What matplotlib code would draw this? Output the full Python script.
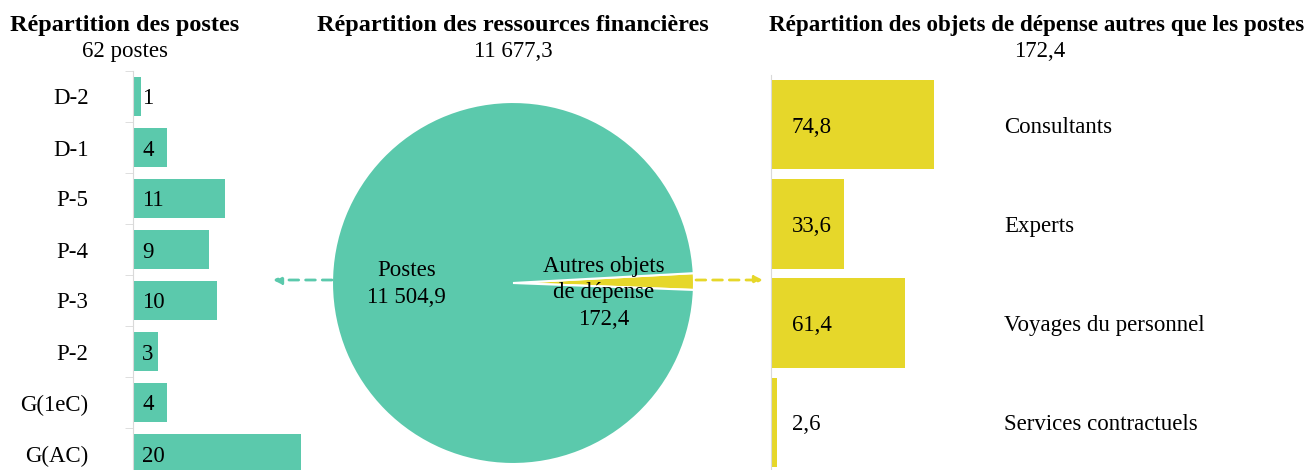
import matplotlib
matplotlib.use('Agg')
import matplotlib.pyplot as plt

plt.rcParams['font.family'] = ['Liberation Serif', 'DejaVu Serif']

# --- data ---
grades = ['D-2', 'D-1', 'P-5', 'P-4', 'P-3', 'P-2', 'G(1eC)', 'G(AC)']
postes = [1, 4, 11, 9, 10, 3, 4, 20]

pie_labels = ['Autres objets\nde dépense\n172,4', 'Postes\n11 504,9']
pie_values = [172.4, 11504.9]

objets = ['Consultants', 'Experts', 'Voyages du personnel', 'Services contractuels']
objets_val = [74.8, 33.6, 61.4, 2.6]
objets_txt = ['74,8', '33,6', '61,4', '2,6']

GREEN = '#5BC9AC'
YELLOW = '#E6D72A'
W, H = 1310, 470
FS = 16.5      # body text
FT = 17.5      # bold titles

fig = plt.figure(figsize=(W / 100, H / 100), dpi=100)


def px_axes(x0, y0, x1, y1):
    # pixel box (top-left origin) -> figure axes
    return fig.add_axes([x0 / W, (H - y1) / H, (x1 - x0) / W, (y1 - y0) / H])


# --- left: postes ---
ax1 = px_axes(133, 71, 301, 479)
ypos = list(range(len(grades)))
ax1.barh(ypos, postes, height=0.76, color=GREEN)
ax1.set_xlim(0, 20)
ax1.set_ylim(len(grades) - 0.5, -0.5)
ax1.set_yticks(ypos)
ax1.set_yticklabels(grades, fontsize=FS)
ax1.set_yticks([i - 0.5 for i in range(len(grades) + 1)], minor=True)
ax1.tick_params(axis='y', which='major', length=0, pad=32)
ax1.tick_params(axis='y', which='minor', length=6, color='#D9D9D9')
ax1.set_xticks([])
for s in ['top', 'right', 'bottom']:
    ax1.spines[s].set_visible(False)
ax1.spines['left'].set_color('#D9D9D9')
for y, v in zip(ypos, postes):
    ax1.annotate(str(v), xy=(0, y), xytext=(6.5, 0), textcoords='offset points',
                 ha='left', va='center_baseline', fontsize=FS)
fig.text(125 / W, 1 - 25 / H, 'Répartition des postes', ha='center', va='center',
         fontsize=FT, fontweight='bold')
fig.text(125 / W, 1 - 52 / H, '62 postes', ha='center', va='center', fontsize=FS)

# --- middle: pie ---
cx, cy, r = 513, 283, 181
ax2 = px_axes(cx - r, cy - r, cx + r, cy + r)
ax2.pie(pie_values, colors=[YELLOW, GREEN], startangle=-2.2, counterclock=True,
        wedgeprops=dict(edgecolor='white', linewidth=1.5))
ax2.set_xlim(-1, 1)
ax2.set_ylim(-1, 1)
ax2.text(-0.59, -0.005, pie_labels[1], ha='center', va='center', fontsize=FS,
         linespacing=1.37)
ax2.text(0.5, -0.055, pie_labels[0], ha='center', va='center', fontsize=FS,
         linespacing=1.34)
fig.text(cx / W, 1 - 25 / H, 'Répartition des ressources financières', ha='center',
         va='center', fontsize=FT, fontweight='bold')
fig.text(cx / W, 1 - 52 / H, '11 677,3', ha='center', va='center', fontsize=FS)

# arrows
arrow_kw = dict(arrowstyle='-|>', linestyle=(0, (3.5, 2.5)), lw=2,
                mutation_scale=12, shrinkA=0, shrinkB=0)
ax2.annotate('', xy=(273, H - 280), xycoords='figure pixels',
             xytext=(332, H - 280), textcoords='figure pixels',
             arrowprops=dict(color=GREEN, **arrow_kw), annotation_clip=False)
ax2.annotate('', xy=(763, H - 280), xycoords='figure pixels',
             xytext=(696, H - 280), textcoords='figure pixels',
             arrowprops=dict(color=YELLOW, **arrow_kw), annotation_clip=False)

# --- right: autres objets ---
ax3 = px_axes(771, 75, 1000, 472)
ypos3 = list(range(len(objets)))
ax3.barh(ypos3, objets_val, height=0.9, color=YELLOW)
ax3.set_xlim(0, 229 / 2.18)
ax3.set_ylim(len(objets) - 0.5, -0.5)
ax3.set_yticks(ypos3)
ax3.set_yticklabels(objets, fontsize=FS)
ax3.yaxis.tick_right()
ax3.tick_params(axis='y', length=0, pad=3)
ax3.set_xticks([])
for s in ['top', 'right', 'bottom']:
    ax3.spines[s].set_visible(False)
ax3.spines['left'].set_color('#D9D9D9')
for y, t in zip(ypos3, objets_txt):
    ax3.annotate(t, xy=(0, y), xytext=(15, 0), textcoords='offset points',
                 ha='left', va='center_baseline', fontsize=FS)
fig.text(1037 / W, 1 - 25 / H, 'Répartition des objets de dépense autres que les postes',
         ha='center', va='center', fontsize=16.6, fontweight='bold')
fig.text(1040 / W, 1 - 52 / H, '172,4', ha='center', va='center', fontsize=FS)

fig.savefig('out.png', dpi=100)
